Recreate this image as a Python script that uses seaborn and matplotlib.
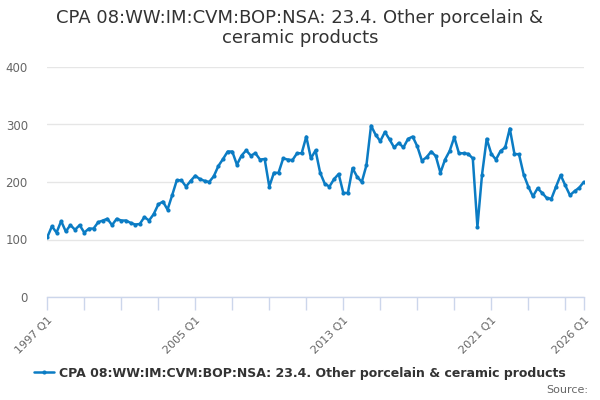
import pandas as pd
import numpy as np
import matplotlib
matplotlib.use("Agg")
import matplotlib.pyplot as plt
import seaborn as sns

# Quarterly values, 1997 Q1 onwards
values = [
    104, 123, 112, 132, 114, 125, 117, 125, 112, 119,
    119, 130, 133, 136, 125, 136, 133, 133, 129, 126,
    127, 139, 133, 144, 161, 166, 152, 177, 203, 203,
    192, 202, 211, 205, 202, 200, 210, 228, 240, 253,
    253, 230, 246, 255, 246, 250, 239, 240, 192, 216,
    216, 241, 239, 238, 250, 250, 279, 241, 255, 216,
    197, 192, 205, 214, 181, 181, 224, 209, 200, 229,
    298, 282, 271, 287, 274, 260, 268, 260, 275, 279,
    262, 237, 243, 253, 245, 216, 239, 254, 278, 250,
    250, 249, 241, 122, 213, 275, 249, 239, 254, 260,
    293, 249, 248, 213, 192, 175, 189, 181, 172, 171,
    192, 212, 194, 177, 184, 190, 200,
]
quarters = pd.period_range("1997Q1", periods=len(values), freq="Q")
labels = [f"{q.year} Q{q.quarter}" for q in quarters]
label_idx = [0, 32, 64, 96, len(values) - 1]

series_name = "CPA 08:WW:IM:CVM:BOP:NSA: 23.4. Other porcelain & ceramic products"
title = "CPA 08:WW:IM:CVM:BOP:NSA: 23.4. Other porcelain &\nceramic products"

df = pd.DataFrame({"idx": np.arange(len(values)), "value": values})

sns.set_style("white")
plt.rcParams["font.family"] = ["DejaVu Sans"]

fig = plt.figure(figsize=(6, 4), dpi=100)
ax = fig.add_axes([0.0788, 0.2575, 0.8942, 0.575])

line_col = "#0b7cc4"
sns.lineplot(data=df, x="idx", y="value", ax=ax, color=line_col, linewidth=1.8,
             marker="o", markersize=3.0, markeredgewidth=0, label=series_name,
             legend=False)

ax.set_ylim(0, 400)
ax.set_xlim(0, len(values) - 1)
ax.set_yticks([0, 100, 200, 300, 400])
ax.yaxis.grid(True, color="#e6e6e6", linewidth=1)
ax.set_axisbelow(True)
for s in ["top", "right", "left"]:
    ax.spines[s].set_visible(False)
ax.spines["bottom"].set_color("#ccd6eb")
ax.spines["bottom"].set_linewidth(1)

tick_pos = list(range(0, len(values) - 1, 8)) + [len(values) - 1]
ax.set_xticks(tick_pos)
ax.set_xticklabels([labels[i] if i in label_idx else "" for i in tick_pos],
                   rotation=45, ha="right", rotation_mode="anchor")
ax.tick_params(axis="x", length=9, width=1, color="#ccd6eb", labelsize=8,
               labelcolor="#666666", pad=4, direction="out", bottom=True)
ax.tick_params(axis="y", length=0, labelsize=8.5, labelcolor="#666666", pad=14)
ax.set_xlabel("")
ax.set_ylabel("")

fig.text(0.5, 0.93, title, ha="center", va="center", fontsize=13,
         color="#333333", linespacing=1.1)

handle = plt.Line2D([], [], color=line_col, linewidth=1.8, marker="o",
                    markersize=3, markeredgewidth=0)
fig.legend([handle], [series_name], loc="center", bbox_to_anchor=(0.5, 0.067),
           frameon=False, prop={"weight": "bold", "size": 9},
           labelcolor="#333333", handlelength=1.6, handletextpad=0.4)

fig.text(0.98, 0.025, "Source:", ha="right", va="center", fontsize=8,
         color="#666666")

fig.savefig("out.png", dpi=100)
